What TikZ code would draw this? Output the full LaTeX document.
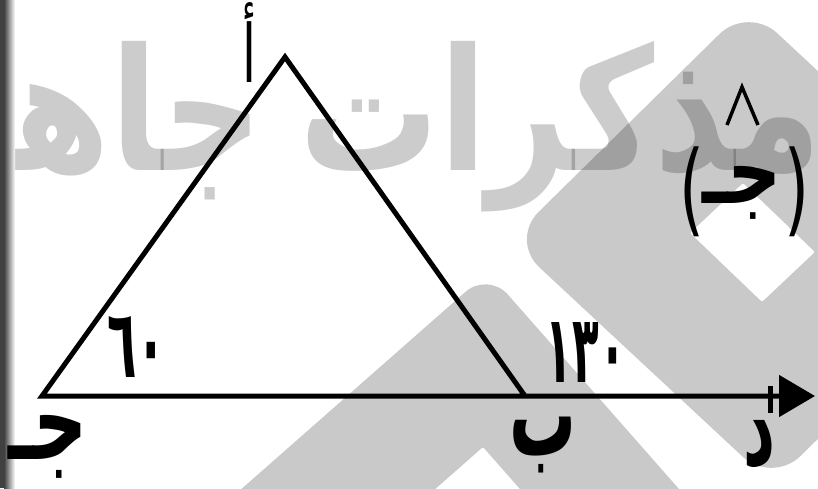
\documentclass[tikz,border=0pt]{standalone}
\usepackage{fontspec}
\usepackage{graphicx}
\usetikzlibrary{arrows.meta}
\newfontfamily\arabicfont[Script=Arabic]{DejaVu Sans}
\newfontfamily\parenfont{DejaVu Sans}
\TeXXeTstate=1
\tikzset{
  wm/.style={fill=black, fill opacity=0.21},
  edge/.style={line width=5pt, black, line join=miter},
  lbl/.style={inner sep=0pt, outer sep=0pt, text=black},
}
\begin{document}
\begin{tikzpicture}[x=1pt,y=-1pt]
\useasboundingbox (0,0) rectangle (818,488);
\fill[white] (0,0) rectangle (818,488);
\begin{scope}
\clip (0,0) rectangle (818,488);
% watermark logo
\fill[wm, even odd rule] [rounded corners=40pt] (748,6) -- (1010,250) -- (772,484) -- (510,240) -- cycle
  [rounded corners=2pt] (743,183) -- (815,252) -- (762,302) -- (690,233) -- cycle;
\fill[wm, even odd rule] [rounded corners=30pt] (488,272) -- (752,572) -- (452,836) -- (188,536) -- cycle
  [rounded corners=2pt] (483,447) -- (681,672) -- (456,870) -- (258,645) -- cycle;
% watermark text
\node[anchor=base east, inner sep=0pt, text=black, text opacity=0.2, xscale=0.82,
  font=\arabicfont\bfseries\fontsize{170}{170}\selectfont] (wmtext) at (822,170) {\beginR مذكرات\hspace{-15pt} جاهزة\endR};
% left dark strip
\fill[black!75] (0,0) rectangle (4,488);
\shade[left color=black!75, right color=white] (4,0) rectangle (15,488);
\end{scope}
% figure
\coordinate (A) at (285,57);
\coordinate (C) at (42,396);
\coordinate (B) at (525,396);
\coordinate (D) at (815,396);
\coordinate (T1) at (770,386);
\coordinate (T2) at (770,413);
\draw[edge, -{Triangle[length=36pt,width=41pt]}] (B) -- (A) -- (C) -- (D);
\draw[line width=5pt] (T1) -- (T2);
% labels
\node[lbl] (Alabel) at (249,42) {\resizebox*{14pt}{80pt}{\arabicfont أ}};
\node[lbl] (Clabel) at (48,447) {\resizebox*{80pt}{63pt}{\arabicfont\bfseries\beginR جـ\endR}};
\node[lbl] (Blabel) at (543,445) {\resizebox*{67pt}{56pt}{\arabicfont\bfseries ب}};
\node[lbl] (Dlabel) at (759,444) {\resizebox*{32pt}{48pt}{\arabicfont\bfseries د}};
\node[lbl] (angC) at (137,347) {\resizebox*{59pt}{61pt}{\arabicfont\bfseries ٦٠}};
\node[lbl] (angB) at (586,352) {\resizebox*{80pt}{60pt}{\arabicfont\bfseries ١٣٠}};
\node[lbl] (ans) at (742,193) {\resizebox*{80pt}{53pt}{\arabicfont\bfseries\beginR جـ\endR}};
\node[lbl] (lp) at (692,192) {\resizebox*{25pt}{90pt}{\parenfont (}};
\node[lbl] (rp) at (797,192) {\resizebox*{25pt}{90pt}{\parenfont )}};
\draw[line width=3.5pt, line join=miter] (727,125) -- (742,87) -- (758,125);
\end{tikzpicture}
\end{document}
